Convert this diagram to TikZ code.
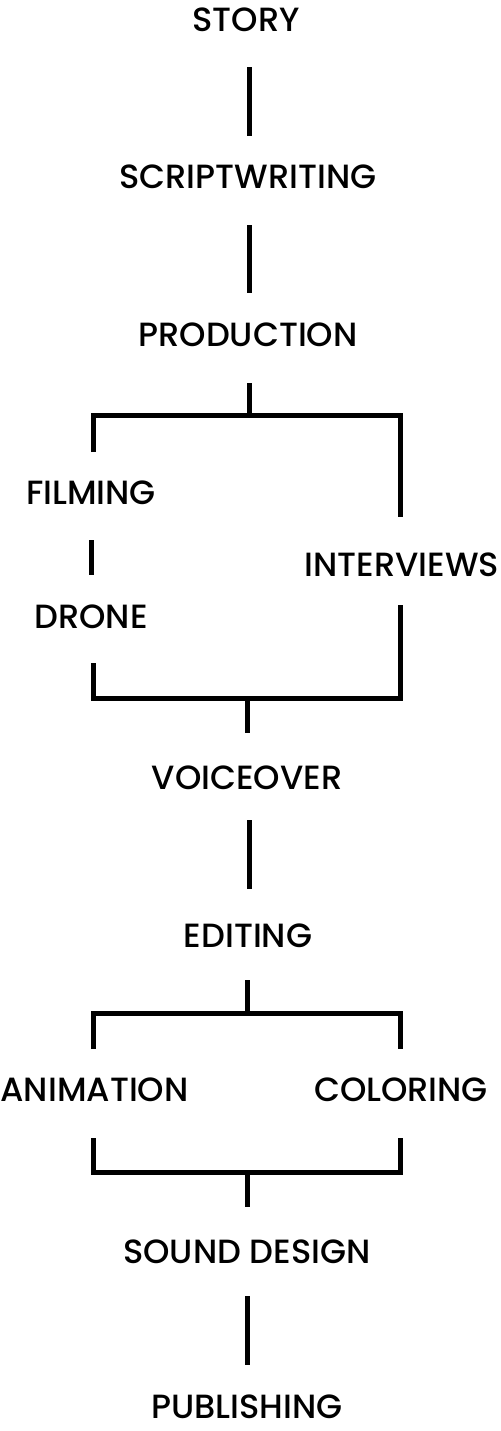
\documentclass[tikz,border=0pt]{standalone}
\usepackage{fontspec}
\setmainfont{Poppins}[UprightFont={* Medium}]
\begin{document}
\begin{tikzpicture}[x=0.5pt,y=-0.5pt,
  lbl/.style={inner sep=0pt, font=\fontsize{16.8}{18}\selectfont},
  conn/.style={line width=2.5pt, line cap=butt}]
\useasboundingbox (0,0) rectangle (500,1431);
\node[lbl] (story) at (246,19.5) {STORY};
\node[lbl] (script) at (248,177) {SCRIPTWRITING};
\node[lbl] (prod) at (248,335) {PRODUCTION};
\node[lbl] (film) at (91,492.5) {FILMING};
\node[lbl] (interv) at (402,565) {INTERVIEWS};
\node[lbl] (drone) at (91,617) {DRONE};
\node[lbl] (voice) at (247,778) {VOICEOVER};
\node[lbl] (edit) at (248,936) {EDITING};
\node[lbl] (anim) at (94.5,1090) {ANIMATION};
\node[lbl] (color) at (401,1090) {COLORING};
\node[lbl] (sound) at (247,1252) {SOUND DESIGN};
\node[lbl] (pub) at (247,1407) {PUBLISHING};
% named junction and end coordinates
\coordinate (s1a) at (249,67);    \coordinate (s1b) at (249,136);
\coordinate (s2a) at (249,225);   \coordinate (s2b) at (249,293);
\coordinate (p0) at (249,383);    \coordinate (b1) at (249,415.5);
\coordinate (b1l) at (93,415.5);  \coordinate (b1r) at (400.5,415.5);
\coordinate (fl) at (93,452);     \coordinate (ir) at (400.5,517);
\coordinate (fd1) at (91,540);    \coordinate (fd2) at (91,575);
\coordinate (dl) at (93,663);     \coordinate (iv) at (400.5,605);
\coordinate (b2l) at (93,698);    \coordinate (b2r) at (400.5,698);
\coordinate (b2) at (247,698);    \coordinate (v0) at (247,733);
\coordinate (s3a) at (249,820);   \coordinate (s3b) at (249,889);
\coordinate (e0) at (247,980);    \coordinate (b3) at (247,1013.5);
\coordinate (b3l) at (93,1013.5); \coordinate (b3r) at (400.5,1013.5);
\coordinate (al) at (93,1049);    \coordinate (cr) at (400.5,1049);
\coordinate (al2) at (93,1138);   \coordinate (cr2) at (400.5,1138);
\coordinate (b4l) at (93,1172);   \coordinate (b4r) at (400.5,1172);
\coordinate (b4) at (247,1172);   \coordinate (sd0) at (247,1207);
\coordinate (s4a) at (247,1296);  \coordinate (s4b) at (247,1365);
% simple connectors
\draw[conn] (s1a) -- (s1b);
\draw[conn] (s2a) -- (s2b);
\draw[conn] (fd1) -- (fd2);
\draw[conn] (s3a) -- (s3b);
\draw[conn] (s4a) -- (s4b);
% production split
\draw[conn] (p0) -- (b1);
\draw[conn] (fl) -- (b1l) -- (b1r) -- (ir);
% merge to voiceover
\draw[conn] (dl) -- (b2l) -- (b2r) -- (iv);
\draw[conn] (b2) -- (v0);
% editing split
\draw[conn] (e0) -- (b3);
\draw[conn] (al) -- (b3l) -- (b3r) -- (cr);
% merge to sound design
\draw[conn] (al2) -- (b4l) -- (b4r) -- (cr2);
\draw[conn] (b4) -- (sd0);
\end{tikzpicture}
\end{document}
